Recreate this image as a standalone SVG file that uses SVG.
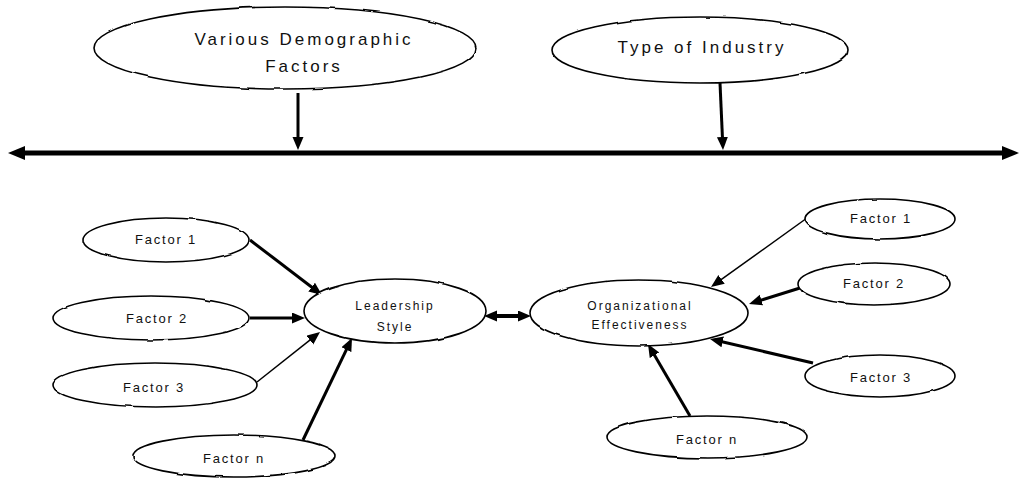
<svg xmlns="http://www.w3.org/2000/svg" width="1021" height="478" viewBox="0 0 1021 478">
  <style>
    .node ellipse { fill: #fff; stroke: #000; stroke-width: 1.6; filter: url(#wobble); }
    text { font-family: "Liberation Sans", Arial, sans-serif; fill: #111; text-anchor: middle; }
    .big { font-size: 17px; letter-spacing: 3px; }
    .mid { font-size: 12px; letter-spacing: 2px; }
    .fac { font-size: 13px; letter-spacing: 1.8px; }
    .conn line { stroke: #000; fill: none; }
    .thick { stroke-width: 3; marker-end: url(#ah); }
    .thin { stroke-width: 1.5; marker-end: url(#ah); }
  </style>
  <defs>
    <filter id="wobble" x="-5%" y="-10%" width="110%" height="120%">
      <feTurbulence type="fractalNoise" baseFrequency="0.06" numOctaves="1" seed="3" result="n"/>
      <feDisplacementMap in="SourceGraphic" in2="n" scale="2.5" xChannelSelector="R" yChannelSelector="G"/>
    </filter>
    <marker id="ah" markerUnits="userSpaceOnUse" markerWidth="14" markerHeight="12" refX="4" refY="5.5" orient="auto">
      <path d="M0,0 L13,5.5 L0,11 z" fill="#000"/>
    </marker>
    <marker id="ahs" markerUnits="userSpaceOnUse" markerWidth="14" markerHeight="12" refX="4" refY="5.5" orient="auto-start-reverse">
      <path d="M0,0 L13,5.5 L0,11 z" fill="#000"/>
    </marker>
    <marker id="bh" markerUnits="userSpaceOnUse" markerWidth="18" markerHeight="15" refX="4" refY="7" orient="auto-start-reverse">
      <path d="M0,0 L17,7 L0,14 z" fill="#000"/>
    </marker>
  </defs>

  <!-- connectors -->
  <g id="connectors" class="conn">
    <line x1="21" y1="153" x2="1006" y2="153" stroke-width="5" marker-start="url(#bh)" marker-end="url(#bh)"/>
    <line class="thick" x1="298" y1="93" x2="298" y2="141"/>
    <line class="thick" x1="720" y1="83" x2="722.6" y2="141"/>

    <line class="thick" x1="250" y1="240" x2="314.8" y2="289.5"/>
    <line class="thick" x1="250" y1="318" x2="296" y2="318"/>
    <line class="thin" x1="257" y1="382" x2="313" y2="337.6"/>
    <line class="thick" x1="303" y1="440" x2="348.1" y2="346.1"/>

    <line x1="493" y1="316" x2="522" y2="316" stroke-width="4" marker-start="url(#ahs)" marker-end="url(#ahs)"/>

    <line class="thin" x1="807" y1="218" x2="718.3" y2="281.7"/>
    <line class="thick" x1="800" y1="288" x2="757.6" y2="301.3"/>
    <line class="thick" x1="813" y1="363" x2="718.8" y2="341"/>
    <line class="thick" x1="690" y1="416" x2="652.5" y2="351.8"/>
  </g>

  <!-- top drivers -->
  <g id="demographic" class="node">
    <ellipse cx="285" cy="48" rx="191" ry="41"/>
    <text class="big" x="304" y="45">Various Demographic</text>
    <text class="big" x="304" y="72">Factors</text>
  </g>
  <g id="industry" class="node">
    <ellipse cx="700" cy="50" rx="148" ry="33"/>
    <text class="big" x="702" y="53">Type of Industry</text>
  </g>

  <!-- core constructs -->
  <g id="leadership" class="node">
    <ellipse cx="395" cy="311" rx="91" ry="32"/>
    <text class="mid" x="395" y="310">Leadership</text>
    <text class="mid" x="395" y="331">Style</text>
  </g>
  <g id="effectiveness" class="node">
    <ellipse cx="639" cy="313" rx="109" ry="33"/>
    <text class="mid" x="640" y="310">Organizational</text>
    <text class="mid" x="640" y="329">Effectiveness</text>
  </g>

  <!-- leadership factors -->
  <g id="ls-factor1" class="node">
    <ellipse cx="166" cy="240" rx="83" ry="22"/>
    <text class="fac" x="166" y="244">Factor 1</text>
  </g>
  <g id="ls-factor2" class="node">
    <ellipse cx="151" cy="318" rx="98" ry="22"/>
    <text class="fac" x="157" y="323">Factor 2</text>
  </g>
  <g id="ls-factor3" class="node">
    <ellipse cx="155" cy="385" rx="102" ry="22"/>
    <text class="fac" x="154" y="392">Factor 3</text>
  </g>
  <g id="ls-factorn" class="node">
    <ellipse cx="234" cy="456" rx="101" ry="21"/>
    <text class="fac" x="234" y="463">Factor n</text>
  </g>

  <!-- effectiveness factors -->
  <g id="oe-factor1" class="node">
    <ellipse cx="880" cy="219" rx="75" ry="20"/>
    <text class="fac" x="881" y="223">Factor 1</text>
  </g>
  <g id="oe-factor2" class="node">
    <ellipse cx="874" cy="284" rx="76" ry="21"/>
    <text class="fac" x="874" y="288">Factor 2</text>
  </g>
  <g id="oe-factor3" class="node">
    <ellipse cx="880" cy="376" rx="75" ry="21"/>
    <text class="fac" x="881" y="382">Factor 3</text>
  </g>
  <g id="oe-factorn" class="node">
    <ellipse cx="707" cy="437" rx="100" ry="21"/>
    <text class="fac" x="707" y="444">Factor n</text>
  </g>
</svg>
